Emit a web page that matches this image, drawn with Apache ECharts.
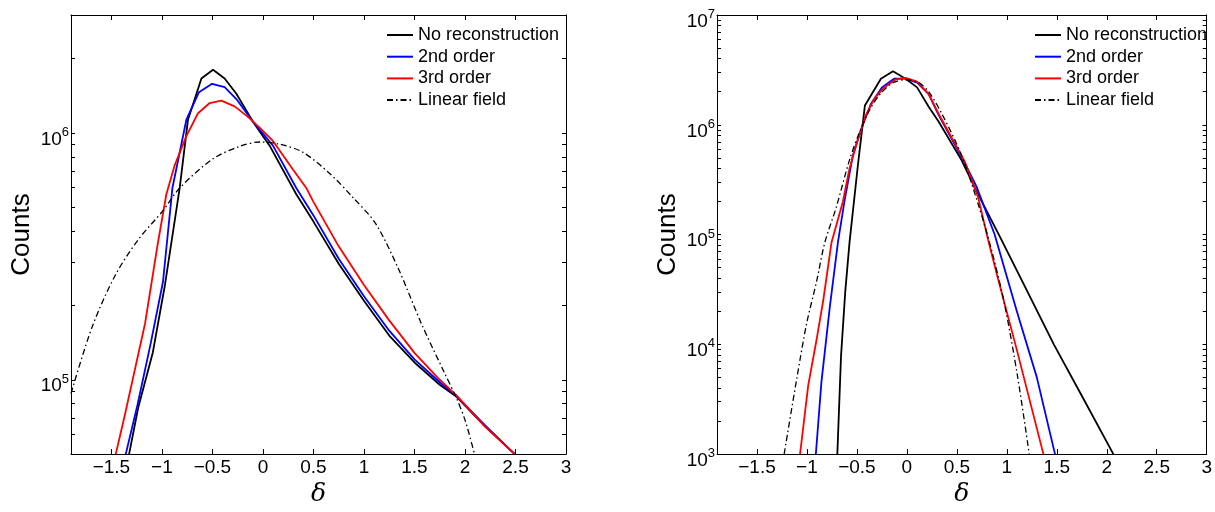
<!DOCTYPE html>
<html><head><meta charset="utf-8">
<script src="https://cdn.jsdelivr.net/npm/echarts@6.0.0/dist/echarts.min.js"></script>
<style>html,body{margin:0;padding:0;background:#fff}#c{width:1215px;height:512px}</style>
</head><body><div id="c"></div>
<script>
// ---------- data ----------
const seriesNames = ['No reconstruction', '2nd order', '3rd order', 'Linear field'];
const xTicks = [-1.5, -1, -0.5, 0, 0.5, 1, 1.5, 2, 2.5, 3];
const leftYLabels = [1e5, 1e6];
const leftYTicks = [6e4, 7e4, 8e4, 9e4, 1e5, 2e5, 3e5, 4e5, 5e5, 6e5, 7e5, 8e5, 9e5, 1e6, 2e6];
const rightYLabels = [1e3, 1e4, 1e5, 1e6, 1e7];
const rightYTicks = [2e3,3e3,4e3,5e3,6e3,7e3,8e3,9e3,1e4,2e4,3e4,4e4,5e4,6e4,7e4,8e4,9e4,1e5,2e5,3e5,4e5,5e5,6e5,7e5,8e5,9e5,1e6,2e6,3e6,4e6,5e6,6e6,7e6,8e6,9e6];

// left panel
const L_noRec_x = [-1.325, -1.235, -1.09, -0.97, -0.824, -0.742, -0.609, -0.494, -0.379, -0.263, -0.099, 0.066, 0.33, 0.5, 0.75, 1.0, 1.25, 1.5, 1.75, 1.92, 2.2, 2.49];
const L_noRec_y = [5.0e4, 7.7e4, 1.29e5, 2.42e5, 5.98e5, 1.13e6, 1.66e6, 1.80e6, 1.66e6, 1.44e6, 1.11e6, 8.87e5, 5.64e5, 4.37e5, 2.95e5, 2.09e5, 1.51e5, 1.175e5, 9.55e4, 8.51e4, 6.46e4, 5.01e4];
const L_2nd_x = [-1.358, -1.242, -1.11, -0.989, -0.896, -0.758, -0.633, -0.504, -0.379, -0.263, -0.099, 0.099, 0.33, 0.5, 0.75, 1.0, 1.25, 1.5, 1.75, 1.92, 2.2, 2.49];
const L_2nd_y = [5.0e4, 7.9e4, 1.41e5, 2.5e5, 5.98e5, 1.13e6, 1.46e6, 1.58e6, 1.53e6, 1.37e6, 1.11e6, 8.87e5, 5.98e5, 4.63e5, 3.09e5, 2.18e5, 1.58e5, 1.21e5, 9.77e4, 8.55e4, 6.53e4, 5.01e4];
const L_3rd_x = [-1.457, -1.367, -1.167, -1.045, -0.956, -0.873, -0.758, -0.643, -0.527, -0.412, -0.28, -0.148, -0.033, 0.099, 0.297, 0.429, 0.5, 0.75, 1.0, 1.25, 1.5, 1.75, 1.92, 2.2, 2.49];
const L_3rd_y = [5.0e4, 7.2e4, 1.69e5, 3.48e5, 5.64e5, 7.4e5, 9.7e5, 1.2e6, 1.32e6, 1.35e6, 1.28e6, 1.16e6, 1.05e6, 9.27e5, 7.1e5, 5.98e5, 5.25e5, 3.47e5, 2.42e5, 1.74e5, 1.285e5, 1.0e5, 8.61e4, 6.46e4, 5.01e4];
const L_lin_x = [-1.9, -1.69, -1.462, -1.235, -0.989, -0.824, -0.494, -0.23, -0.033, 0.165, 0.396, 0.66, 0.886, 1.114, 1.34, 1.568, 1.795, 1.909, 2.004, 2.094];
const L_lin_y = [8.8e4, 1.64e5, 2.65e5, 3.69e5, 4.84e5, 5.98e5, 7.85e5, 8.81e5, 9.18e5, 9.0e5, 8.34e5, 6.85e5, 5.5e5, 4.3e5, 2.82e5, 1.69e5, 1.07e5, 8.55e4, 6.8e4, 5.0e4];

// right panel
const R_noRec_x = [-0.696, -0.659, -0.617, -0.574, -0.49, -0.42, -0.26, -0.139, -0.013, 0.102, 0.218, 0.317, 0.548, 0.696, 0.92, 1.2, 1.47, 1.75, 2.066];
const R_noRec_y = [1e3, 7.8e3, 3.0e4, 8.5e4, 4.3e5, 1.5e6, 2.63e6, 3.07e6, 2.63e6, 2.19e6, 1.46e6, 1.07e6, 4.74e5, 2.49e5, 1.0e5, 3.1e4, 1.0e4, 3.4e3, 1e3];
const R_2nd_x = [-0.911, -0.855, -0.772, -0.69, -0.624, -0.541, -0.458, -0.359, -0.25, -0.129, -0.013, 0.102, 0.218, 0.317, 0.581, 0.696, 0.878, 1.1, 1.3, 1.482];
const R_2nd_y = [1e3, 4.55e3, 2.16e4, 8.5e4, 2.03e5, 5.25e5, 9.06e5, 1.556e6, 2.19e6, 2.63e6, 2.63e6, 2.42e6, 1.9e6, 1.23e6, 4.44e5, 2.75e5, 1.0e5, 2.0e4, 5.0e3, 1e3];
const R_3rd_x = [-1.069, -0.987, -0.904, -0.838, -0.755, -0.64, -0.574, -0.49, -0.409, -0.327, -0.228, -0.112, -0.013, 0.102, 0.218, 0.317, 0.581, 0.713, 0.812, 0.911, 1.1, 1.366];
const R_3rd_y = [1e3, 4.25e3, 1.1e4, 2.48e4, 8.41e4, 2.0e5, 4.0e5, 7.4e5, 1.23e6, 1.72e6, 2.19e6, 2.59e6, 2.68e6, 2.47e6, 1.9e6, 1.26e6, 4.58e5, 2.18e5, 9.0e4, 3.98e4, 8.9e3, 1e3];
const R_lin_x = [-1.228, -1.102, -1.003, -0.904, -0.822, -0.706, -0.574, -0.475, -0.376, -0.277, -0.145, -0.013, 0.119, 0.218, 0.35, 0.548, 0.713, 0.845, 0.977, 1.109, 1.224];
const R_lin_y = [1e3, 4.86e3, 1.55e4, 3.72e4, 8.41e4, 1.78e5, 4.79e5, 8.51e5, 1.35e6, 1.86e6, 2.4e6, 2.57e6, 2.42e6, 2.0e6, 1.26e6, 5.25e5, 1.9e5, 7.35e4, 2.32e4, 5.0e3, 1e3];

// ---------- chart ----------
const FONT = '"Liberation Sans", Arial, Helvetica, sans-serif';
const pts = (xs, ys) => xs.map((x, i) => [x, ys[i]]);
const lineStyles = [
  {color: '#000000', width: 1.8, type: 'solid'},
  {color: '#0000ff', width: 1.8, type: 'solid'},
  {color: '#ff0000', width: 1.8, type: 'solid'},
  {color: '#000000', width: 1.3, type: [6, 3, 1.5, 3]}
];
const panels = [
  {grid: {left: 71, top: 15, width: 495, height: 452.5}, ymin: 5e4, ymax: 3e6, labels: leftYLabels, ticks: leftYTicks,
   data: [[L_noRec_x, L_noRec_y], [L_2nd_x, L_2nd_y], [L_3rd_x, L_3rd_y], [L_lin_x, L_lin_y]], legendLeft: 386},
  {grid: {left: 717, top: 15, width: 494, height: 452.5}, ymin: 1e3, ymax: 1e7, labels: rightYLabels, ticks: rightYTicks,
   data: [[R_noRec_x, R_noRec_y], [R_2nd_x, R_2nd_y], [R_3rd_x, R_3rd_y], [R_lin_x, R_lin_y]], legendLeft: 1034}
];
const axisLine = {show: true, onZero: false, lineStyle: {color: '#000', width: 1}};
const xFmt = v => String(v).replace('-', '\u2212');
const yFmt = v => '{b|10}{s|' + Math.round(Math.log10(v)) + '}';

const option = {
  animation: false,
  backgroundColor: '#fff',
  grid: panels.map(p => p.grid),
  xAxis: [], yAxis: [], series: [], legend: []
};
panels.forEach((p, gi) => {
  option.xAxis.push({
    gridIndex: gi, type: 'value', min: -1.9, max: 3, position: 'bottom',
    axisLine, splitLine: {show: false},
    axisTick: {show: true, inside: true, length: 5, customValues: xTicks, lineStyle: {color: '#000'}},
    axisLabel: {customValues: xTicks, formatter: xFmt, fontSize: 19, fontFamily: FONT, color: '#000', margin: 4},
    name: '\u03b4', nameLocation: 'middle', nameGap: 22,
    nameTextStyle: {fontSize: 25, fontStyle: 'italic', fontFamily: '"DejaVu Serif", "Liberation Serif", serif', color: '#000'}
  });
  option.xAxis.push({
    gridIndex: gi, type: 'value', min: -1.9, max: 3, position: 'top',
    axisLine, splitLine: {show: false},
    axisTick: {show: true, inside: true, length: 5, customValues: xTicks, lineStyle: {color: '#000'}},
    axisLabel: {show: false}
  });
  option.yAxis.push({
    gridIndex: gi, type: 'log', logBase: 10, min: p.ymin, max: p.ymax, position: 'left',
    axisLine, splitLine: {show: false}, minorTick: {show: false},
    axisTick: {show: true, inside: true, length: 4, customValues: p.ticks.concat(p.labels), lineStyle: {color: '#000'}},
    axisLabel: {customValues: p.labels, formatter: yFmt, margin: 2, color: '#000', padding: [13, 0, 0, 0],
      rich: {b: {fontSize: 19, fontFamily: FONT, color: '#000', lineHeight: 19, verticalAlign: 'bottom'},
             s: {fontSize: 13, fontFamily: FONT, color: '#000', lineHeight: 13, padding: [0, 0, 10, 0], verticalAlign: 'bottom'}}},
    name: 'Counts', nameLocation: 'middle', nameGap: 36, nameRotate: 90,
    nameTextStyle: {fontSize: 26, fontFamily: FONT, color: '#000'}
  });
  option.yAxis.push({
    gridIndex: gi, type: 'log', logBase: 10, min: p.ymin, max: p.ymax, position: 'right',
    axisLine, splitLine: {show: false}, minorTick: {show: false},
    axisTick: {show: true, inside: true, length: 4, customValues: p.ticks.concat(p.labels), lineStyle: {color: '#000'}},
    axisLabel: {show: false}
  });
  p.data.forEach((d, si) => {
    const isLin = si === 3;
    option.series.push({
      name: seriesNames[si], type: 'line', xAxisIndex: gi * 2, yAxisIndex: gi * 2,
      data: pts(d[0], d[1]), symbol: 'none', clip: true,
      smooth: isLin ? 0.3 : false,
      lineStyle: lineStyles[si], itemStyle: {color: lineStyles[si].color}, z: 2 + si
    });
  });
  option.legend.push({
    data: seriesNames, orient: 'vertical', left: p.legendLeft, top: 25.5, padding: 0,
    itemWidth: 26, itemHeight: 10, itemGap: 2.7, selectedMode: false,
    itemStyle: {opacity: 0, borderWidth: 0},
    textStyle: {fontSize: 18, fontFamily: FONT, color: '#000', lineHeight: 19}
  });
});

const chart = echarts.init(document.getElementById('c'), null, {renderer: 'canvas'});
chart.setOption(option);
</script></body></html>
